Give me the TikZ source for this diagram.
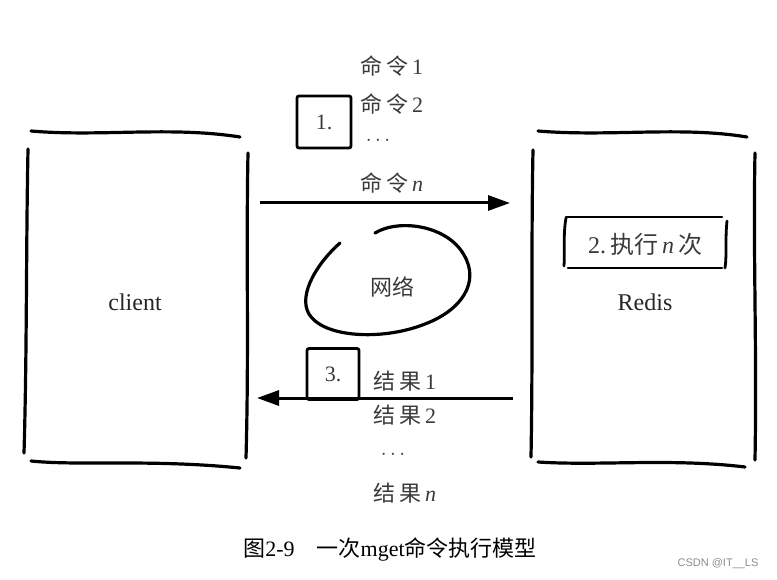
\documentclass[tikz,border=0pt]{standalone}
\usepackage{fontspec}
\setmainfont{Liberation Serif}
\newfontfamily\cjk{Noto Sans CJK SC}
\newfontfamily\wmfont{Liberation Sans}
\usetikzlibrary{arrows.meta}
\definecolor{inkgrey}{HTML}{3A3A3A}
\tikzset{
  sketch/.style={line width=3.2pt, line cap=round, black},
  thinbox/.style={line width=2.8pt, line cap=round, black},
  lbl/.style={text=inkgrey, font=\fontsize{22}{24}\selectfont, inner sep=0pt},
  biglbl/.style={text=black!85, font=\fontsize{24}{26}\selectfont, inner sep=0pt},
  arr/.style={line width=3pt, -{Triangle[length=22pt,width=15pt]}},
}
\begin{document}
\begin{tikzpicture}[x=1pt,y=-1pt]
\useasboundingbox (0,0) rectangle (777,580);

% client box
\draw[sketch] (31,131) .. controls (100,137) and (170,126) .. (240,137);
\draw[sketch] (28,149) .. controls (26,250) and (27,350) .. (24,453);
\draw[sketch] (248,153) .. controls (246,250) and (249,350) .. (246,458);
\draw[sketch] (31,461) .. controls (80,466) and (150,459) .. (240,468);
\node[biglbl] (client) at (135,302) {client};
\coordinate (cR1) at (260,203);
\coordinate (cR2) at (257,398);

% Redis box
\draw[sketch] (538,131) .. controls (610,137) and (680,126) .. (747,137);
\draw[sketch] (533,150) .. controls (531,250) and (533,350) .. (531,457);
\draw[sketch] (755,153) .. controls (753,250) and (757,350) .. (755,460);
\draw[sketch] (538,462) .. controls (600,466) and (670,458) .. (745,467);
\node[biglbl] (redis) at (645,302) {Redis};
\coordinate (rL1) at (510,203);
\coordinate (rL2) at (513,398);

% box 2
\node[lbl, font=\fontsize{24}{26}\selectfont] (exec) at (645,244) {2.\,{\cjk 执行}\,\textit{n}\,{\cjk 次}};
\draw[thinbox] (566,217) -- (722,217);
\draw[thinbox] (568,268) -- (722,268);
\draw[thinbox] (566,218) .. controls (563,235) and (565,250) .. (564,266);
\draw[thinbox] (727,221) .. controls (725,240) and (727,255) .. (725,268);

% box 1 and commands
\node[lbl, draw=black, line width=2.8pt, minimum width=54pt, minimum height=52pt, rounded corners=2pt] (b1) at (324,122) {1.};
\node[lbl] (c1) at (392,66) {{\cjk 命\,令}\,1};
\node[lbl] (c2) at (392,104) {{\cjk 命\,令}\,2};
\node[lbl] (c3) at (378,141) {$\cdots$};
\node[lbl] (cn) at (392,183) {{\cjk 命\,令}\,\textit{n}};

% request arrow
\draw[arr] (cR1) -- (rL1);

% network blob
\draw[sketch] (340,243) .. controls (315,265) and (295,300) .. (312,318)
  .. controls (330,338) and (385,340) .. (425,324)
  .. controls (462,310) and (480,282) .. (464,255)
  .. controls (448,226) and (400,218) .. (375,233);
\node[lbl] (net) at (392,287) {\cjk 网络};

% box 3 and results
\node[lbl, draw=black, line width=2.8pt, minimum width=52pt, minimum height=51pt, rounded corners=2pt] (b3) at (333,374) {3.};
\node[lbl] (r1) at (405,381) {{\cjk 结\,果}\,1};
\node[lbl] (r2) at (405,415) {{\cjk 结\,果}\,2};
\node[lbl] (r3) at (393,455) {$\cdots$};
\node[lbl] (rn) at (405,493) {{\cjk 结\,果}\,\textit{n}};

% response arrow
\draw[arr] (rL2) -- (cR2);

% caption
\node[inner sep=0pt, font=\fontsize{22}{24}\selectfont] (cap) at (390,549) {{\cjk 图}2-9\quad{\cjk 一次}mget{\cjk 命令执行模型}};
\node[inner sep=0pt, text=black!45, font=\wmfont\fontsize{11}{12}\selectfont] (wm) at (718,564) {CSDN @IT\_\_LS};
\end{tikzpicture}
\end{document}
